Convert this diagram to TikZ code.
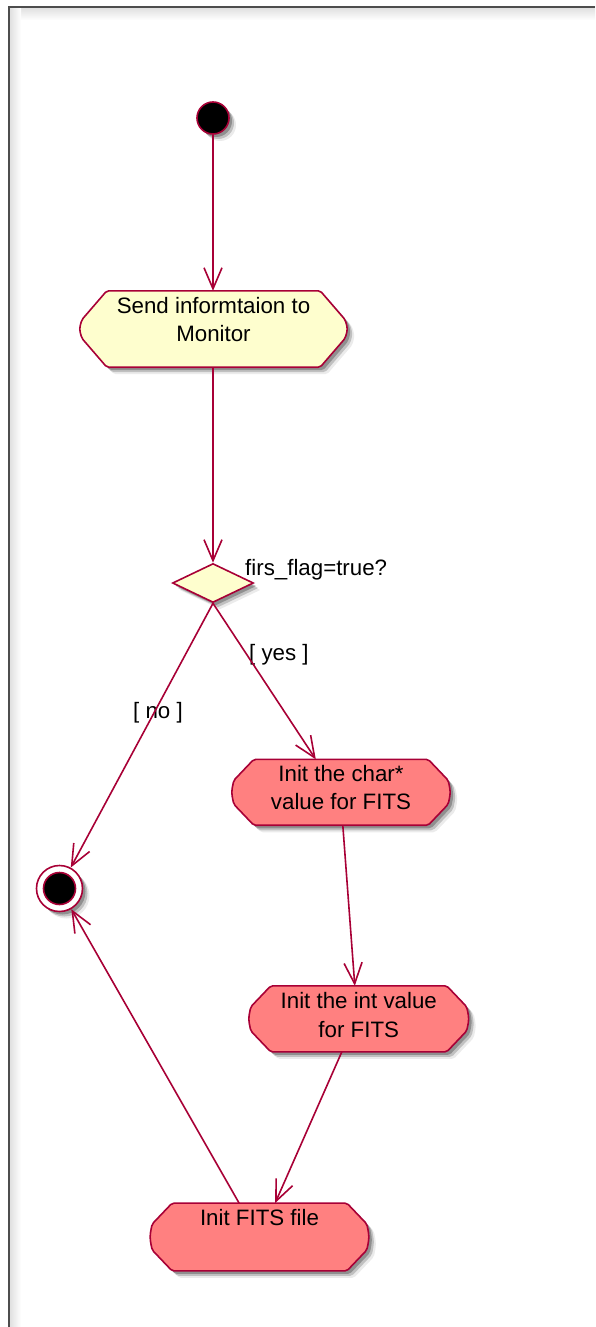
\documentclass[tikz,border=0pt]{standalone}
\usepackage{fontspec}
\setmainfont{Liberation Sans}
\usetikzlibrary{arrows.meta,shapes.geometric,shadows,calc}
\definecolor{pborder}{HTML}{A80036}
\definecolor{pyellow}{HTML}{FEFECE}
\definecolor{pred}{HTML}{FF8080}
\definecolor{pframe}{HTML}{4D4D4D}
\tikzset{
  shd/.style={drop shadow={shadow xshift=3pt, shadow yshift=-3pt, opacity=.25, fill=black},
              drop shadow={shadow xshift=5pt, shadow yshift=-5pt, opacity=.18, fill=black},
              drop shadow={shadow xshift=7pt, shadow yshift=-7pt, opacity=.08, fill=black}},
  actbox/.style={rectangle, draw=none, fill=none, inner sep=0},
  acttext/.style={inner sep=0, align=center, font=\fontsize{22.3}{28.5}\selectfont, text=black},
  actshape/.style={draw=pborder, line width=1.6pt, rounded corners=2pt, shd},
  flow/.style={draw=pborder, line width=1.6pt, -{Straight Barb[length=21pt,width=18pt]}},
  lbl/.style={inner sep=0, font=\fontsize{22.3}{28}\selectfont, anchor=base west},
  dec/.style={diamond, draw=pborder, fill=pyellow, line width=1.6pt, minimum width=81pt, minimum height=39pt, inner sep=0, shd},
  startnode/.style={circle, fill=black, draw=pborder, line width=1.6pt, minimum size=32pt, inner sep=0, shd},
  endouter/.style={circle, fill=white, draw=pborder, line width=1.6pt, minimum size=46pt, inner sep=0, shd},
  endinner/.style={circle, fill=black, draw=pborder, line width=1.6pt, minimum size=32pt, inner sep=0}
}
\newcommand\actoutline[4]{%
  \filldraw[actshape, fill=#2]
  ($(#1.north west)+(#3,0)$) -- ($(#1.north east)+(-#3,0)$) -- ($(#1.north east)+(0,#4)$)
  .. controls ($(#1.east)+(2.5,0)$) .. ($(#1.south east)+(0,-#4)$) -- ($(#1.south east)+(-#3,0)$) -- ($(#1.south west)+(#3,0)$)
  -- ($(#1.south west)+(0,-#4)$) .. controls ($(#1.west)+(-2.5,0)$) .. ($(#1.north west)+(0,#4)$) -- cycle;}
\begin{document}
\begin{tikzpicture}[x=1pt,y=-1pt]
\useasboundingbox (0,0) rectangle (595,1327);
\fill[white] (0,0) rectangle (595,1327);
\shade[top color=black!13, bottom color=white] (9,7) rectangle (595,20);
\shade[left color=black!13, right color=white] (9,7) rectangle (21,1327);
\draw[pframe, line width=1.5pt] (9,1327) -- (9,7) -- (595,7);

% start
\node[startnode] (st) at (213,118) {};

% activity 1
\node[actbox, minimum width=263pt, minimum height=76pt] (a1) at (213.5,329) {};
\actoutline{a1}{pyellow}{25}{29}
\node[acttext] (a1t) at ($(a1.center)+(0,-9.5)$) {Send informtaion to\\Monitor};

% decision
\node[dec] (d) at (213,583) {};
\node[lbl] (dl) at (245,575) {firs\_flag=true?};
\node[lbl] (yes) at (249,660) {[ yes ]};
\node[lbl] (no) at (133,718) {[ no ]};

% init char
\node[actbox, minimum width=214pt, minimum height=65.5pt] (c1) at (341,792.3) {};
\actoutline{c1}{pred}{20}{21}
\node[acttext] (c1t) at ($(c1.center)+(0,-4.6)$) {Init the char*\\value for FITS};

% init int
\node[actbox, minimum width=215.5pt, minimum height=65.7pt] (c2) at (358.75,1018.85) {};
\actoutline{c2}{pred}{20}{21}
\node[acttext] (c2t) at ($(c2.center)+(0,-3.7)$) {Init the int value\\for FITS};

% init FITS file
\node[actbox, minimum width=214.4pt, minimum height=67.4pt] (c3) at (259.5,1237) {};
\actoutline{c3}{pred}{20}{21}
\node[acttext] (c3t) at ($(c3.center)+(0,-19.3)$) {Init FITS file};

% end
\node[endouter] (en) at (59.5,888.5) {};
\node[endinner] (eni) at (en.center) {};

% connectors
\draw[flow] (st.south) -- (st.south |- a1.north);
\draw[flow] (d.north |- a1.south) -- (d.north);
\draw[flow] (d.south) -- ($(c1.north west)+(82,0)$);
\draw[flow] (d.south) -- (en);
\draw[flow] ($(c1.south west)+(109,0)$) -- ($(c2.north west)+(104,0)$);
\draw[flow] ($(c2.south west)+(91,0)$) -- ($(c3.north west)+(123,0)$);
\draw[flow] ($(c3.north west)+(87,0)$) -- (en);
\end{tikzpicture}
\end{document}
